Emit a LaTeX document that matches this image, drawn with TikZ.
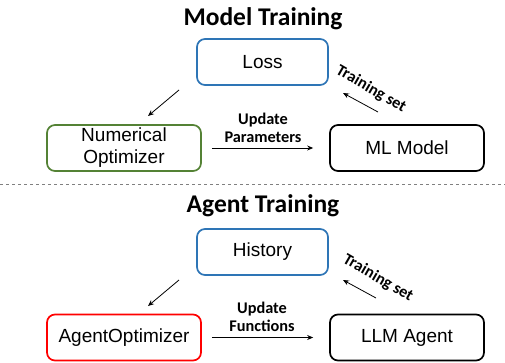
\documentclass[tikz,border=0pt]{standalone}
\usepackage{fontspec}
\usepackage{tikz}
\usetikzlibrary{arrows.meta}
\newfontfamily\boxfont{Liberation Sans}
\newfontfamily\calfont{Carlito}

\begin{document}
\begin{tikzpicture}[x=1pt, y=-1pt,
    box/.style={draw, line width=1.7pt, rounded corners=8pt, minimum height=46pt,
      inner sep=0pt, align=center, font=\boxfont\fontsize{19}{22}\selectfont},
    ttl/.style={anchor=base, font=\calfont\bfseries\fontsize{25.5}{28}\selectfont},
    lbl/.style={align=center, inner sep=1pt, font=\calfont\bfseries\fontsize{16.3}{18.5}\selectfont},
    flow/.style={-{Stealth[length=6pt, width=5pt]}, line width=0.8pt}]
    \useasboundingbox (0,0) rectangle (505,362);
    \definecolor{lossblue}{RGB}{46,117,182}
    \definecolor{optgreen}{RGB}{84,130,53}

    % model training
    \node[ttl] (mtitle) at (263,25) {Model Training};
    \node[box, draw=lossblue, minimum width=131pt] (loss) at (262.5,62) {Loss};
    \node[box, draw=optgreen, minimum width=154pt] (numopt) at (124,148) {Numerical\\Optimizer};
    \node[box, minimum width=154pt] (mlmodel) at (407,148) {ML Model};
    \coordinate (LA) at (179,90);
    \coordinate (LB) at (148,116);
    \coordinate (TA) at (378,112);
    \coordinate (TB) at (343,93);
    \draw[flow] (LA) -- (LB);
    \draw[flow] (TA) -- (TB);
    \draw[flow, shorten <=10pt, shorten >=16pt] (numopt) -- (mlmodel);
    \node[lbl] (mupd) at (263,128) {Update\\Parameters};
    \node[lbl, rotate=-30] (mset) at (371,89) {Training set};

    \draw[gray, dash pattern=on 3pt off 3pt] (0,184) -- (505,184);

    % agent training
    \node[ttl] (atitle) at (263,212) {Agent Training};
    \node[box, draw=lossblue, minimum width=131pt] (hist) at (262.5,252) {History};
    \node[box, draw=red, minimum width=154pt] (agopt) at (124,337.5) {AgentOptimizer};
    \node[box, minimum width=154pt] (llm) at (407,337.5) {LLM Agent};
    \coordinate (HA) at (179,280);
    \coordinate (HB) at (148,306);
    \coordinate (SA) at (376,298);
    \coordinate (SB) at (343,280);
    \draw[flow] (HA) -- (HB);
    \draw[flow] (SA) -- (SB);
    \draw[flow, shorten <=10pt, shorten >=16pt] (agopt) -- (llm);
    \node[lbl] (aupd) at (262,317) {Update\\Functions};
    \node[lbl, rotate=-30] (aset) at (378,278) {Training set};
\end{tikzpicture}
\end{document}
